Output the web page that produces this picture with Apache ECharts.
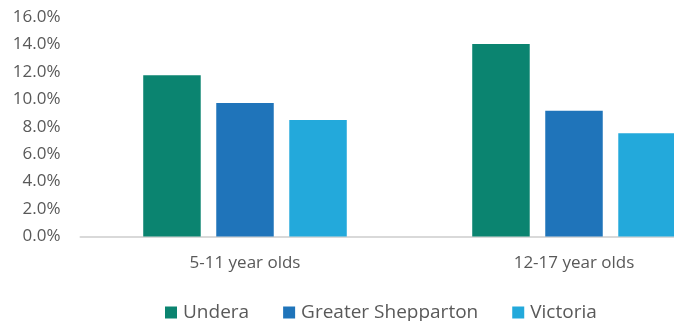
<!DOCTYPE html>
<html>
<head>
<meta charset="utf-8">
<script src="https://cdn.jsdelivr.net/npm/echarts@6/dist/echarts.min.js"></script>
<style>
html,body{margin:0;padding:0;background:#fff;}
#chart{width:674px;height:321px;}
</style>
</head>
<body>
<div id="chart"></div>
<script>
const categories = ['5-11 year olds', '12-17 year olds'];
const seriesNames = ['Undera', 'Greater Shepparton', 'Victoria'];
const undera = [11.75, 14.03];
const greaterShepparton = [9.73, 9.17];
const victoria = [8.49, 7.52];
const colors = ['#0B8470', '#1F74BA', '#23A9DB'];

const font = '"Open Sans", sans-serif';
const chart = echarts.init(document.getElementById('chart'), null, {renderer: 'canvas'});
const values = [undera, greaterShepparton, victoria];
chart.setOption({
  animation: false,
  grid: {left: 80.5, top: 17, width: 658, height: 219.5, containLabel: false, outerBoundsMode: 'none'},
  legend: {
    left: 160, top: 298,
    itemWidth: 12, itemHeight: 12, itemGap: 34,
    icon: 'rect',
    textStyle: {fontFamily: font, fontSize: 19, color: '#595959', padding: [0,0,0,1]},
    data: seriesNames
  },
  xAxis: {
    type: 'category',
    data: categories,
    axisLine: {lineStyle: {color: '#D9D9D9', width: 2}},
    axisTick: {show: false},
    axisLabel: {fontFamily: font, fontSize: 17, color: '#595959', margin: 18}
  },
  yAxis: {
    type: 'value',
    min: 0, max: 16, interval: 2,
    axisLine: {show: false},
    axisTick: {show: false},
    splitLine: {show: false},
    axisLabel: {fontFamily: font, fontSize: 17, color: '#595959', margin: 20,
      formatter: v => v.toFixed(1) + '%'}
  },
  series: seriesNames.map((n, i) => ({
    name: n,
    type: 'bar',
    data: values[i],
    barWidth: 57.5,
    barGap: '27%',
    itemStyle: {color: colors[i]}
  }))
});
</script>
</body>
</html>
